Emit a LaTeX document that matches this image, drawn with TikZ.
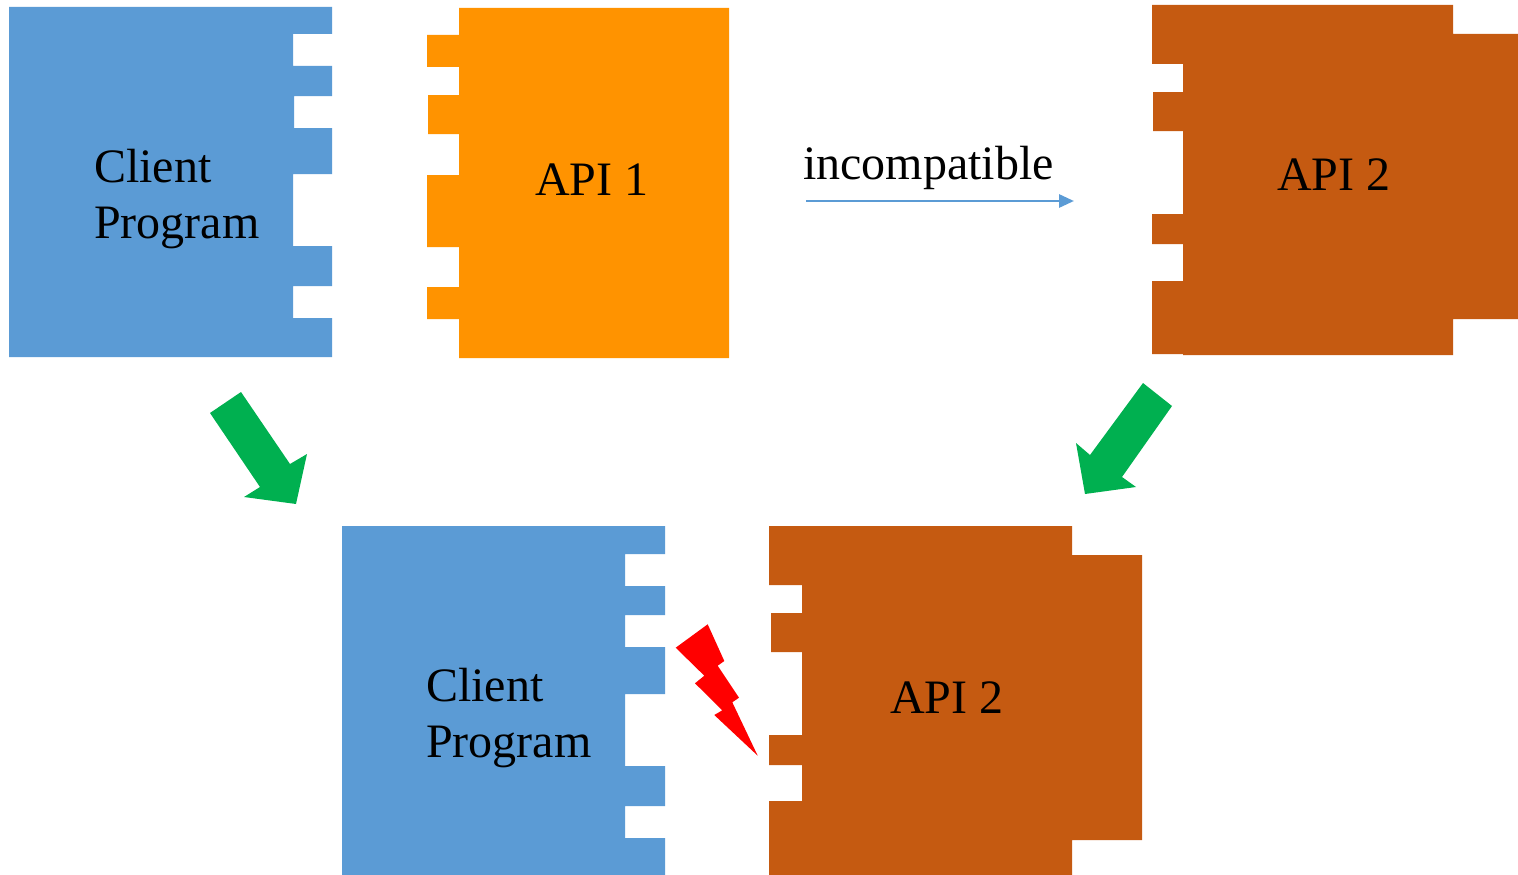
\documentclass[tikz,border=0pt]{standalone}
\usepackage{fontspec}
\setmainfont{Liberation Serif}
\usetikzlibrary{arrows.meta}
\definecolor{cblue}{HTML}{5B9BD5}
\definecolor{corange}{HTML}{FF9300}
\definecolor{cbrown}{HTML}{C55A11}
\definecolor{cgreen}{HTML}{00B050}
\definecolor{cred}{HTML}{FF0000}
\tikzset{
  clientfill/.style={fill=cblue},
  api1fill/.style={fill=corange},
  api2fill/.style={fill=cbrown},
  bigarrow/.style={fill=cgreen},
  bolt/.style={fill=cred},
  lbl/.style={inner sep=0pt, font=\fontsize{48}{56}\selectfont},
  thinarrow/.style={draw=cblue, line width=2.8pt, -{Triangle[length=15pt,width=13pt]}}
}
\begin{document}
\begin{tikzpicture}[x=1pt,y=-1pt]
\useasboundingbox (0,0) rectangle (1518,875);
% top client program
\fill[clientfill] (9,7) -- (332,7) -- (332,34) -- (293,34) -- (293,66) -- (332,66) -- (332,96) -- (294,96) -- (294,128) -- (332,128) -- (332,174) -- (293,174) -- (293,246) -- (332,246) -- (332,286) -- (293,286) -- (293,318) -- (332,318) -- (332,357) -- (9,357) -- cycle;
\node[lbl, anchor=base west, align=left] (client1) at (94,238) {Client\\Program};
% API 1
\fill[api1fill] (459,8) -- (729,8) -- (729,358) -- (459,358) -- (459,319) -- (427,319) -- (427,287) -- (459,287) -- (459,247) -- (427,247) -- (427,175) -- (459,175) -- (459,134) -- (428,134) -- (428,95) -- (459,95) -- (459,67) -- (427,67) -- (427,35) -- (459,35) -- cycle;
\node[lbl, anchor=base] (api1) at (592,195) {API 1};
% top API 2
\fill[api2fill] (1152,5) -- (1453,5) -- (1453,34) -- (1518,34) -- (1518,319) -- (1453,319) -- (1453,355) -- (1183,355) -- (1183,354) -- (1152,354) -- (1152,281) -- (1183,281) -- (1183,244) -- (1152,244) -- (1152,214) -- (1183,214) -- (1183,131) -- (1153,131) -- (1153,92) -- (1183,92) -- (1183,64) -- (1152,64) -- cycle;
\node[lbl, anchor=base] (api2a) at (1334,190) {API 2};
% incompatible arrow
\node[lbl, anchor=base west] (inc) at (803,179) {incompatible};
\coordinate (incs) at (806,201);
\coordinate (ince) at (1074,201);
\draw[thinarrow] (incs) -- (ince);
% green arrows
\fill[bigarrow] (210,413) -- (241,392) -- (290,464) -- (307,454) -- (296,504) -- (244,497) -- (260,487) -- cycle;
\fill[bigarrow] (1143,383) -- (1172,406) -- (1122,477) -- (1136,487) -- (1085,494) -- (1076,443) -- (1090,455) -- cycle;
% bottom client program
\fill[clientfill] (342,526) -- (665,526) -- (665,554) -- (625,554) -- (625,586) -- (665,586) -- (665,615) -- (625,615) -- (625,647) -- (665,647) -- (665,694) -- (625,694) -- (625,766) -- (665,766) -- (665,806) -- (625,806) -- (625,838) -- (665,838) -- (665,875) -- (342,875) -- cycle;
\node[lbl, anchor=base west, align=left] (client2) at (426,757) {Client\\Program};
% bottom API 2
\fill[api2fill] (769,526) -- (1072,526) -- (1072,555) -- (1142,555) -- (1142,840) -- (1072,840) -- (1072,875) -- (769,875) -- (769,801) -- (802,801) -- (802,765) -- (769,765) -- (769,735) -- (802,735) -- (802,652) -- (771,652) -- (771,613) -- (802,613) -- (802,585) -- (769,585) -- cycle;
\node[lbl, anchor=base] (api2b) at (947,713) {API 2};
% lightning bolt
\fill[bolt] (675.7,647.7) -- (707.7,624.3) -- (724.3,661) -- (717.7,665.7) -- (739,697.7) -- (732.3,702.3) -- (757.7,755.7) -- (714.3,715) -- (722.3,710.3) -- (695,683.3) -- (704.3,675.7) -- cycle;
\end{tikzpicture}
\end{document}
